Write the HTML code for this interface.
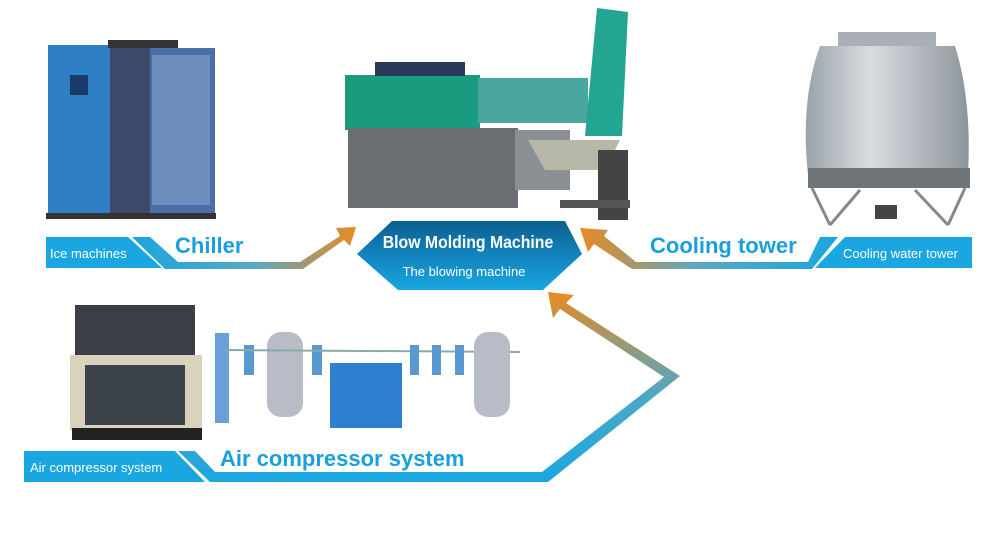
<!DOCTYPE html>
<html><head><meta charset="utf-8"><style>
body{margin:0;background:#fff;width:998px;height:559px;overflow:hidden}
svg{display:block}
text{font-family:"Liberation Sans",Arial,sans-serif}
</style></head><body>
<svg width="998" height="559" viewBox="0 0 998 559" xmlns="http://www.w3.org/2000/svg">
<defs>
<linearGradient id="gL" x1="0" x2="1"><stop offset="0" stop-color="#1aa6e0"/><stop offset="0.55" stop-color="#5aa8c0"/><stop offset="1" stop-color="#e88a22"/></linearGradient>
<linearGradient id="gR" x1="1" x2="0"><stop offset="0" stop-color="#1aa6e0"/><stop offset="0.55" stop-color="#5aa8c0"/><stop offset="1" stop-color="#e88a22"/></linearGradient>
<linearGradient id="gA" x1="0" y1="1" x2="0" y2="0"><stop offset="0" stop-color="#1aa6e0"/><stop offset="0.45" stop-color="#4aa8c8"/><stop offset="1" stop-color="#ea8a20"/></linearGradient>
<linearGradient id="gH" x1="0" y1="0" x2="0" y2="1"><stop offset="0" stop-color="#0b5f8c"/><stop offset="0.5" stop-color="#1283bd"/><stop offset="1" stop-color="#1aa6e0"/></linearGradient>
<linearGradient id="gT" x1="0" x2="1"><stop offset="0" stop-color="#9aa3aa"/><stop offset="0.4" stop-color="#d8dde0"/><stop offset="1" stop-color="#8d959c"/></linearGradient>
</defs>

<rect x="48" y="45" width="100" height="170" fill="#2f7fc4"/>
<rect x="110" y="45" width="40" height="170" fill="#3a4a68"/>
<rect x="150" y="48" width="65" height="168" fill="#4a6ea8"/>
<rect x="152" y="55" width="58" height="150" fill="#6d8dbd"/>
<rect x="108" y="40" width="70" height="8" fill="#333"/>
<rect x="70" y="75" width="18" height="20" fill="#1a3a6a"/>
<rect x="46" y="213" width="170" height="6" fill="#333"/>

<rect x="345" y="75" width="135" height="55" fill="#1a9a7e"/>
<rect x="478" y="78" width="110" height="45" fill="#4aa7a0"/>
<rect x="375" y="62" width="90" height="14" fill="#2b3a5a"/>
<rect x="348" y="128" width="170" height="80" fill="#6a6e72"/>
<rect x="515" y="130" width="55" height="60" fill="#8a8f94"/>
<polygon points="528,140 620,140 605,170 545,170" fill="#b8b8a8"/>
<polygon points="597,8 628,12 622,136 585,136" fill="#23a592"/>
<rect x="598" y="150" width="30" height="70" fill="#444"/>
<rect x="560" y="200" width="70" height="8" fill="#555"/>

<rect x="838" y="32" width="98" height="14" fill="#a9b0b5"/>
<path d="M820 46 L955 46 Q972 100 968 175 L808 175 Q800 100 820 46Z" fill="url(#gT)"/>
<rect x="808" y="168" width="162" height="20" fill="#6e7478"/>
<path d="M812 188 L830 225 M965 188 L948 225 M830 225 L860 190 M948 225 L915 190" stroke="#888" stroke-width="3" fill="none"/>
<rect x="875" y="205" width="22" height="14" fill="#444"/>

<rect x="75" y="305" width="120" height="50" fill="#3a3f46"/>
<rect x="70" y="355" width="132" height="75" fill="#d9d3bd"/>
<rect x="85" y="365" width="100" height="60" fill="#3d434a"/>
<rect x="72" y="428" width="130" height="12" fill="#222"/>
<rect x="215" y="333" width="14" height="90" fill="#6aa0d8"/>
<rect x="244" y="345" width="10" height="30" fill="#5a98d0"/>
<rect x="267" y="332" width="36" height="85" rx="14" fill="#b8bcc6"/>
<rect x="312" y="345" width="10" height="30" fill="#5a98d0"/>
<line x1="225" y1="350" x2="520" y2="352" stroke="#8aa" stroke-width="2"/>
<rect x="330" y="363" width="72" height="65" fill="#2f7fd0"/>
<rect x="410" y="345" width="9" height="30" fill="#5a98d0"/>
<rect x="432" y="345" width="9" height="30" fill="#5a98d0"/>
<rect x="455" y="345" width="9" height="30" fill="#5a98d0"/>
<rect x="474" y="332" width="36" height="85" rx="14" fill="#b8bcc6"/>

<polygon points="46,237 128,237 162,268 46,268" fill="#1aa6e0"/>
<polygon points="132,237 150,237 178,262 300,262 340,236 336,228 356,227 350,246 344,240 303,269 165,269" fill="url(#gL)"/>
<text x="50" y="258" font-size="13" fill="#fff">Ice machines</text>
<text x="175" y="253" font-size="22" font-weight="bold" fill="#1a9fde">Chiller</text>

<polygon points="972,237 845,237 815,268 972,268" fill="#1aa6e0"/>
<polygon points="838,237 820,237 808,262 636,262 604,236 608,230 580,228 588,252 594,244 632,269 812,269" fill="url(#gR)"/>
<text x="843" y="258" font-size="13" fill="#fff">Cooling water tower</text>
<text x="650" y="253" font-size="22" font-weight="bold" fill="#1a9fde">Cooling tower</text>

<polygon points="24,451 175,451 205,482 24,482" fill="#1aa6e0"/>
<polygon points="178,451 195,451 215,472 542,472 664,377 560,309 553,318 548,292 574,295 566,303 680,376 548,482 210,482" fill="url(#gA)"/>
<text x="30" y="472" font-size="13" fill="#fff">Air compressor system</text>
<text x="220" y="466" font-size="22" font-weight="bold" fill="#1a9fde">Air compressor system</text>

<polygon points="357,254 392,221 565,221 582,254 543,290 398,290" fill="url(#gH)"/>
<text x="468" y="248" font-size="18" font-weight="bold" fill="#fff" text-anchor="middle" transform="translate(468 0) scale(0.88 1) translate(-468 0)">Blow Molding Machine</text>
<text x="464" y="276" font-size="13" fill="#fff" text-anchor="middle">The blowing machine</text>
</svg>
</body></html>
